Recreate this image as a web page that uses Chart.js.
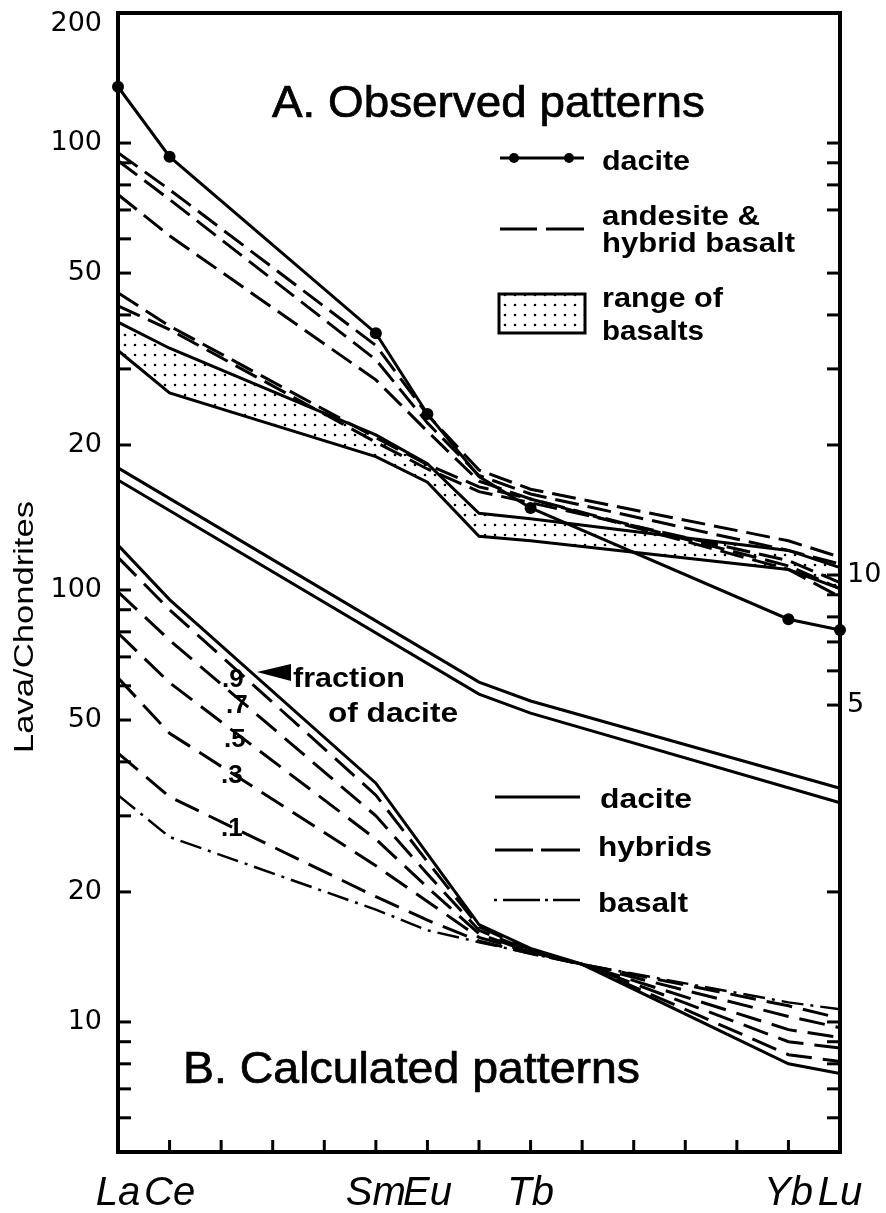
<!DOCTYPE html>
<html lang="en">
  <head>
    <meta charset="UTF-8" />
    <title>REE patterns - observed and calculated</title>
    <script src="https://cdn.jsdelivr.net/npm/chart.js"></script>
    <style>
      html, body { margin: 0; padding: 0; background: #fff; }
      #reeChart { display: block; }
    </style>
  </head>

  <body>
    <canvas id="reeChart" width="886" height="1213"></canvas>

    <script>
      const _ = null;

      // x axis: rare earth elements by atomic number
      const elements = ["La", "Ce", "Pr", "Nd", "Pm", "Sm", "Eu", "Gd", "Tb", "Dy", "Ho", "Er", "Tm", "Yb", "Lu"];
      const shownElements = ["La", "Ce", "Sm", "Eu", "Tb", "Yb", "Lu"];

      // A. observed patterns (left upper scale)
      const obsDacite  = [135, 93, _, _, _, 36.3, 23.6, 16.9, 14.3, _, _, _, _, 7.9, 7.46];
      const andesite1  = [95, 78, _, _, _, 34, 23.5, 17.5, 15.8, _, _, _, _, 12.0, 11.0];
      const andesite2  = [91, 74, _, _, _, 31.5, 22.5, 17.0, 15.4, _, _, _, _, 11.4, 10.6];
      const andesite3  = [76, 61, _, _, _, 28.3, 21.5, 16.5, 15.0, _, _, _, _, 10.5, 9.3];
      const hybBasalt1 = [45, 37.7, _, _, _, 20.8, 18.0, 16.0, 15.0, _, _, _, _, 10.3, 8.9];
      const hybBasalt2 = [42, 37, _, _, _, 20.3, 17.6, 15.6, 14.7, _, _, _, _, 10.8, 9.6];
      const basaltHigh = [38.5, 33.5, _, _, _, 21.1, 18.1, 13.9, 13.5, _, _, _, _, 11.4, 10.4];
      const basaltLow  = [33.1, 26.4, _, _, _, 18.8, 16.4, 12.3, 12.0, _, _, _, _, 10.3, 9.3];
      const divideHigh = [17.7, _, _, _, _, _, _, 5.65, 5.11, _, _, _, _, _, 3.21];
      const divideLow  = [16.6, _, _, _, _, _, _, 5.3, 4.79, _, _, _, _, _, 2.97];

      // B. calculated patterns (left lower scale)
      const calcDacite = [127, 95, _, _, _, 35.7, 24.5, 16.8, 14.8, 13.6, _, _, _, 8.0, 7.6];
      const mix09      = [119, 90, _, _, _, 33.5, 23.5, 16.6, 14.7, 13.6, _, _, _, 8.4, 8.1];
      const mix07      = [99, 76.5, _, _, _, 30, 22, 16.3, 14.6, 13.6, _, _, _, 9.0, 8.7];
      const mix05      = [79.5, 61, _, _, _, 26.5, 20.5, 16.0, 14.5, 13.6, _, _, _, 9.6, 9.2];
      const mix03      = [62.6, 46.6, _, _, _, 23, 19, 15.7, 14.5, 13.6, _, _, _, 10.3, 9.7];
      const mix01      = [41.9, 33.2, _, _, _, 19.5, 17.2, 15.4, 14.4, 13.6, _, _, _, 10.9, 10.2];
      const calcBasalt = [33.5, 26.8, _, _, _, 18.2, 16.3, 15.3, 14.4, 13.6, _, _, _, 11.1, 10.7];

      // tick labels and tick marks
      const labelsA = [200, 100, 50, 20];
      const labelsB = [100, 50, 20, 10];
      const labelsRight = [10, 5];
      const leftTicksA = [100, 90, 80, 70, 60, 50, 40, 30, 20];
      const leftTicksB = [100, 90, 80, 70, 60, 50, 40, 30, 20, 10, 9, 8, 7, 6];
      const rightTicksA = [100, 90, 80, 70, 50, 40, 30, 20, 10, 9, 8, 7, 6, 5];
      const rightTicksB = [20, 10, 9, 8, 7, 6];

      const ctx = document.getElementById("reeChart").getContext("2d");

      // dotted fill for the basalt range
      const tile = document.createElement("canvas");
      tile.width = 10;
      tile.height = 10;
      const tctx = tile.getContext("2d");
      tctx.fillStyle = "#000";
      tctx.beginPath();
      tctx.arc(5, 5, 1.3, 0, Math.PI * 2);
      tctx.fill();
      const dots = ctx.createPattern(tile, "repeat");

      const DASH = [24, 9];
      const DASH_B = [26, 11];
      const DASH_DOT = [22, 7, 3, 7];

      const tickFont = { family: "'DejaVu Sans'", size: 27, lineHeight: 0.82 };
      // lower left labels sit on a zero-width axis, so they are mirrored back outside
      ctx.font = "27px 'DejaVu Sans'";
      const widestB = ctx.measureText("100").width;

      function line(data, axis, dash, extra) {
        return Object.assign(
          {
            data: data,
            yAxisID: axis,
            borderColor: "#000",
            borderWidth: 3,
            borderDash: dash || [],
            pointRadius: 0,
            fill: false,
            spanGaps: true,
            tension: 0,
          },
          extra || {}
        );
      }

      function putText(c, text, x, y, font, width, heavy) {
        c.font = font;
        c.textAlign = "left";
        c.textBaseline = "alphabetic";
        const w = c.measureText(text).width;
        c.save();
        c.translate(x, y);
        if (width) c.scale(width / w, 1);
        c.fillText(text, 0, 0);
        if (heavy) {
          c.lineWidth = heavy;
          c.strokeText(text, 0, 0);
        }
        c.restore();
      }

      const decor = {
        id: "decor",
        afterDraw(chart) {
          const c = chart.ctx;
          const a = chart.chartArea;
          const s = chart.scales;
          c.save();
          c.strokeStyle = "#000";
          c.fillStyle = "#000";

          // frame
          c.lineWidth = 4;
          c.strokeRect(a.left, a.top, a.right - a.left, a.bottom - a.top);

          // inward ticks
          c.lineWidth = 3;
          const tick = (x1, y1, x2, y2) => {
            c.beginPath();
            c.moveTo(x1, y1);
            c.lineTo(x2, y2);
            c.stroke();
          };
          leftTicksA.forEach((v) => { const y = s.yA.getPixelForValue(v); tick(a.left, y, a.left + 13, y); });
          leftTicksB.forEach((v) => { const y = s.yB.getPixelForValue(v); tick(a.left, y, a.left + 13, y); });
          rightTicksA.forEach((v) => { const y = s.yA.getPixelForValue(v); tick(a.right, y, a.right - 13, y); });
          rightTicksB.forEach((v) => { const y = s.yB.getPixelForValue(v); tick(a.right, y, a.right - 13, y); });
          for (let i = 1; i < elements.length - 1; i++) {
            const x = s.x.getPixelForValue(i);
            tick(x, a.bottom, x, a.bottom - 12);
          }

          // y title
          c.save();
          c.font = "27px 'Liberation Sans'";
          c.textBaseline = "middle";
          const tw = c.measureText("Lava/Chondrites").width;
          c.translate(26, 627);
          c.rotate(-Math.PI / 2);
          c.scale(252 / tw, 1);
          c.fillText("Lava/Chondrites", -tw / 2, 0);
          c.restore();

          // panel titles
          putText(c, "A. Observed patterns", 272, 117, "44px 'Liberation Sans'", 433, 0.7);
          putText(c, "B. Calculated patterns", 183, 1083, "44px 'Liberation Sans'", 457, 0.7);

          // legend A
          const lf = "bold 28px 'Liberation Sans'";
          c.lineWidth = 3;
          tick(500, 158, 584, 158);
          [514, 569].forEach((x) => { c.beginPath(); c.arc(x, 158, 5, 0, Math.PI * 2); c.fill(); });
          putText(c, "dacite", 602, 170, lf, 88);
          tick(500, 229, 537, 229);
          tick(546, 229, 584, 229);
          putText(c, "andesite &", 602, 225, lf, 158);
          putText(c, "hybrid basalt", 602, 252, lf, 193);
          c.fillStyle = dots;
          c.fillRect(499, 294, 86, 39);
          c.fillStyle = "#000";
          c.strokeRect(499, 294, 86, 39);
          putText(c, "range of", 602, 307, lf, 121);
          putText(c, "basalts", 602, 340, lf, 102);

          // legend B
          c.lineWidth = 3;
          tick(495, 797, 580, 797);
          putText(c, "dacite", 600, 808, lf, 92);
          tick(495, 850, 533, 850);
          tick(541, 850, 580, 850);
          putText(c, "hybrids", 598, 856, lf, 114);
          c.lineWidth = 2.5;
          tick(494, 900, 497, 900);
          tick(503, 900, 540, 900);
          tick(545, 900, 548, 900);
          tick(553, 900, 580, 900);
          putText(c, "basalt", 598, 912, lf, 90);

          // mixing fractions
          const ff = "bold 26px 'Liberation Sans'";
          putText(c, ".9", 222, 687, ff);
          putText(c, ".7", 226, 713, ff);
          putText(c, ".5", 224, 747, ff);
          putText(c, ".3", 221, 783, ff);
          putText(c, ".1", 221, 836, ff);
          c.beginPath();
          c.moveTo(257, 672);
          c.lineTo(291, 664);
          c.lineTo(291, 681);
          c.closePath();
          c.fill();
          putText(c, "fraction", 293, 687, lf, 112);
          putText(c, "of dacite", 328, 722, lf, 130);

          c.restore();
        },
      };

      const reeChart = new Chart(ctx, {
        type: "line",
        data: {
          labels: elements,
          datasets: [
            line(divideHigh, "yA"),
            line(divideLow, "yA"),
            line(basaltHigh, "yA", [], { fill: "+1", backgroundColor: dots }),
            line(basaltLow, "yA"),
            line(hybBasalt1, "yA", DASH),
            line(hybBasalt2, "yA", DASH),
            line(andesite3, "yA", DASH),
            line(andesite2, "yA", DASH),
            line(andesite1, "yA", DASH),
            line(obsDacite, "yA", [], {
              pointRadius: (c) => (c.dataIndex === 7 ? 0 : 6),
              pointBackgroundColor: "#000",
              pointBorderWidth: 0,
            }),
            line(calcBasalt, "yB", DASH_DOT, { borderWidth: 2.5 }),
            line(mix01, "yB", DASH_B),
            line(mix03, "yB", DASH_B),
            line(mix05, "yB", DASH_B),
            line(mix07, "yB", DASH_B),
            line(mix09, "yB", DASH_B),
            line(calcDacite, "yB"),
          ],
        },
        options: {
          responsive: false,
          animation: false,
          devicePixelRatio: 1,
          layout: { padding: { top: 13, left: 0, right: 0, bottom: 0 } },
          plugins: { legend: { display: false }, tooltip: { enabled: false } },
          scales: {
            x: {
              type: "category",
              offset: false,
              grid: { display: false, drawTicks: false },
              border: { display: false },
              ticks: {
                autoSkip: false,
                maxRotation: 0,
                minRotation: 0,
                padding: 18,
                color: "#000",
                font: { family: "'Liberation Sans'", size: 40, style: "italic" },
                callback: (v, i) => (shownElements.includes(elements[i]) ? elements[i] : ""),
              },
              afterFit: (sc) => { sc.height = 61; sc.paddingLeft = 0; sc.paddingRight = 0; },
            },
            yA: {
              type: "logarithmic",
              position: "left",
              weight: 2,
              min: 0.4617,
              max: 200,
              grid: { display: false, drawTicks: false },
              border: { display: false },
              afterBuildTicks: (sc) => { sc.ticks = labelsA.map((v) => ({ value: v })); },
              ticks: {
                padding: 16,
                color: "#000",
                font: tickFont,
                callback: (v) => (v === 200 ? ["", "200"] : String(v)),
              },
              afterFit: (sc) => { sc.width = 118; sc.paddingTop = 0; sc.paddingBottom = 0; },
            },
            yB: {
              type: "logarithmic",
              position: "left",
              weight: 1,
              min: 5,
              max: 2166,
              grid: { display: false, drawTicks: false },
              border: { display: false },
              afterBuildTicks: (sc) => { sc.ticks = labelsB.map((v) => ({ value: v })); },
              ticks: {
                mirror: true,
                crossAlign: "far",
                padding: -16 - widestB,
                color: "#000",
                font: tickFont,
                callback: (v) => String(v),
              },
              afterFit: (sc) => { sc.width = 0; sc.paddingTop = 0; sc.paddingBottom = 0; },
            },
            yR: {
              type: "logarithmic",
              position: "right",
              min: 0.4617,
              max: 200,
              grid: { display: false, drawTicks: false },
              border: { display: false },
              afterBuildTicks: (sc) => { sc.ticks = labelsRight.map((v) => ({ value: v })); },
              ticks: { padding: 7, color: "#000", font: tickFont, callback: (v) => String(v) },
              afterFit: (sc) => { sc.width = 46; sc.paddingTop = 0; sc.paddingBottom = 0; },
            },
          },
        },
        plugins: [decor],
      });
    </script>
  </body>
</html>
